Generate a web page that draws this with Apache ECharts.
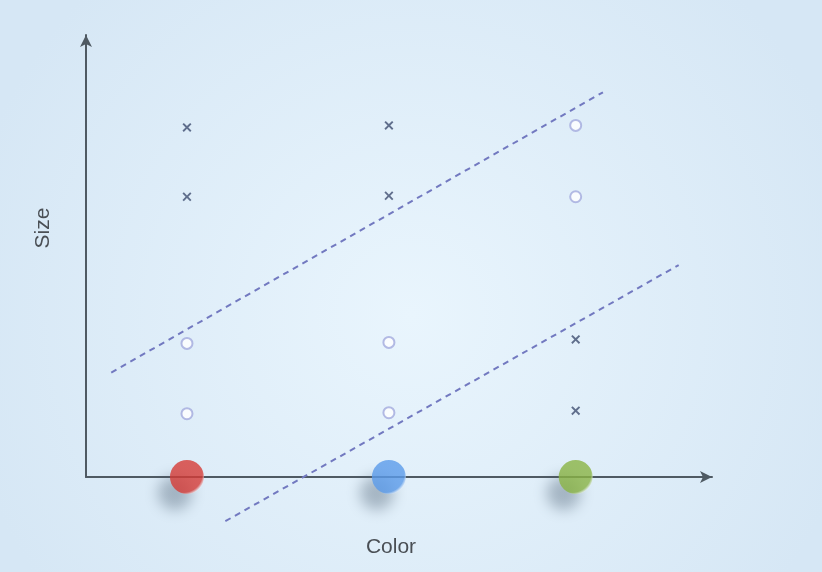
<!DOCTYPE html>
<html>
<head>
<meta charset="utf-8">
<script src="https://cdn.jsdelivr.net/npm/echarts@6/dist/echarts.min.js"></script>
<style>
    html, body { margin: 0; padding: 0; }
    #main { width: 822px; height: 572px; }
</style>
</head>
<body>
<div id="main"></div>
<script>
// 颜色类别在横轴上的位置
var colorNames = ['red', 'blue', 'green'];
var colorPos = [1.0, 3.0, 4.85];
var ballColors = ['#d63b36', '#5b9bea', '#8ab444'];

// x 形样本
var crossX = [1.0, 1.0, 3.0, 3.0, 4.85, 4.85];
var crossY = [3.48, 2.79, 3.5, 2.8, 1.37, 0.66];

// 圆形样本
var circleX = [1.0, 1.0, 3.0, 3.0, 4.85, 4.85];
var circleY = [1.33, 0.63, 1.34, 0.64, 3.5, 2.79];

// 两条虚线边界
var upperLine = [[0.25, 1.04], [5.12, 3.83]];
var lowerLine = [[1.38, -0.44], [5.87, 2.11]];

var xMax = 6.2;
var yMax = 4.4;

var myChart = echarts.init(document.getElementById('main'));

function pairs(xs, ys) {
    var out = [];
    for (var i = 0; i < xs.length; i++) {
        out.push([xs[i], ys[i]]);
    }
    return out;
}

var crossPath = 'path://M1.5,0L5,3.5L8.5,0L10,1.5L6.5,5L10,8.5L8.5,10L5,6.5L1.5,10L0,8.5L3.5,5L0,1.5Z';

var dashStyle = {
    color: '#7279c0',
    width: 2,
    type: [6, 5]
};

var axisStyle = {
    lineStyle: {color: '#4f5a63', width: 2},
    symbol: ['none', 'arrow'],
    symbolSize: [9, 12]
};

var option = {
    backgroundColor: {
        type: 'radial',
        x: 0.5, y: 0.55, r: 0.8,
        colorStops: [
            {offset: 0, color: '#e9f5fd'},
            {offset: 1, color: '#d6e7f5'}
        ]
    },
    animation: false,
    grid: {
        left: 86,
        right: 110,
        top: 35,
        bottom: 95
    },
    xAxis: {
        type: 'value',
        min: 0,
        max: xMax,
        name: 'Color',
        nameLocation: 'middle',
        nameGap: 60,
        nameTextStyle: {
            color: '#4a4f55',
            fontSize: 21,
            fontFamily: 'Liberation Sans',
            padding: [0, 16, 0, 0]
        },
        axisLine: axisStyle,
        axisTick: {show: false},
        axisLabel: {show: false},
        splitLine: {show: false}
    },
    yAxis: {
        type: 'value',
        min: 0,
        max: yMax,
        name: 'Size',
        nameLocation: 'middle',
        nameGap: 32,
        nameTextStyle: {
            color: '#4a4f55',
            fontSize: 21,
            fontFamily: 'Liberation Sans',
            padding: [0, 0, 0, 56]
        },
        axisLine: axisStyle,
        axisTick: {show: false},
        axisLabel: {show: false},
        splitLine: {show: false}
    },
    series: [
        {
            name: 'upper',
            type: 'line',
            clip: false,
            symbol: 'none',
            lineStyle: dashStyle,
            data: upperLine
        },
        {
            name: 'lower',
            type: 'line',
            clip: false,
            symbol: 'none',
            lineStyle: dashStyle,
            data: lowerLine
        },
        {
            name: 'cross',
            type: 'scatter',
            symbol: crossPath,
            symbolSize: 9,
            itemStyle: {color: '#3e4d70'},
            data: pairs(crossX, crossY)
        },
        {
            name: 'circle',
            type: 'scatter',
            symbol: 'emptyCircle',
            symbolSize: 11,
            itemStyle: {color: '#a3aadd', borderWidth: 1.3},
            data: pairs(circleX, circleY)
        },
        {
            name: 'balls',
            type: 'scatter',
            clip: false,
            symbolSize: 34,
            z: 5,
            data: colorPos.map(function (x, i) {
                return {
                    name: colorNames[i],
                    value: [x, 0],
                    itemStyle: {
                        color: {
                            type: 'radial',
                            x: 0.4, y: 0.4, r: 0.65,
                            colorStops: [
                                {offset: 0, color: ballColors[i]},
                                {offset: 0.85, color: ballColors[i]},
                                {offset: 1, color: '#eef4fa'}
                            ]
                        },
                        shadowColor: 'rgba(60,80,100,0.45)',
                        shadowBlur: 14,
                        shadowOffsetX: -12,
                        shadowOffsetY: 16
                    }
                };
            })
        }
    ]
};
myChart.setOption(option);
</script>
</body>
</html>
